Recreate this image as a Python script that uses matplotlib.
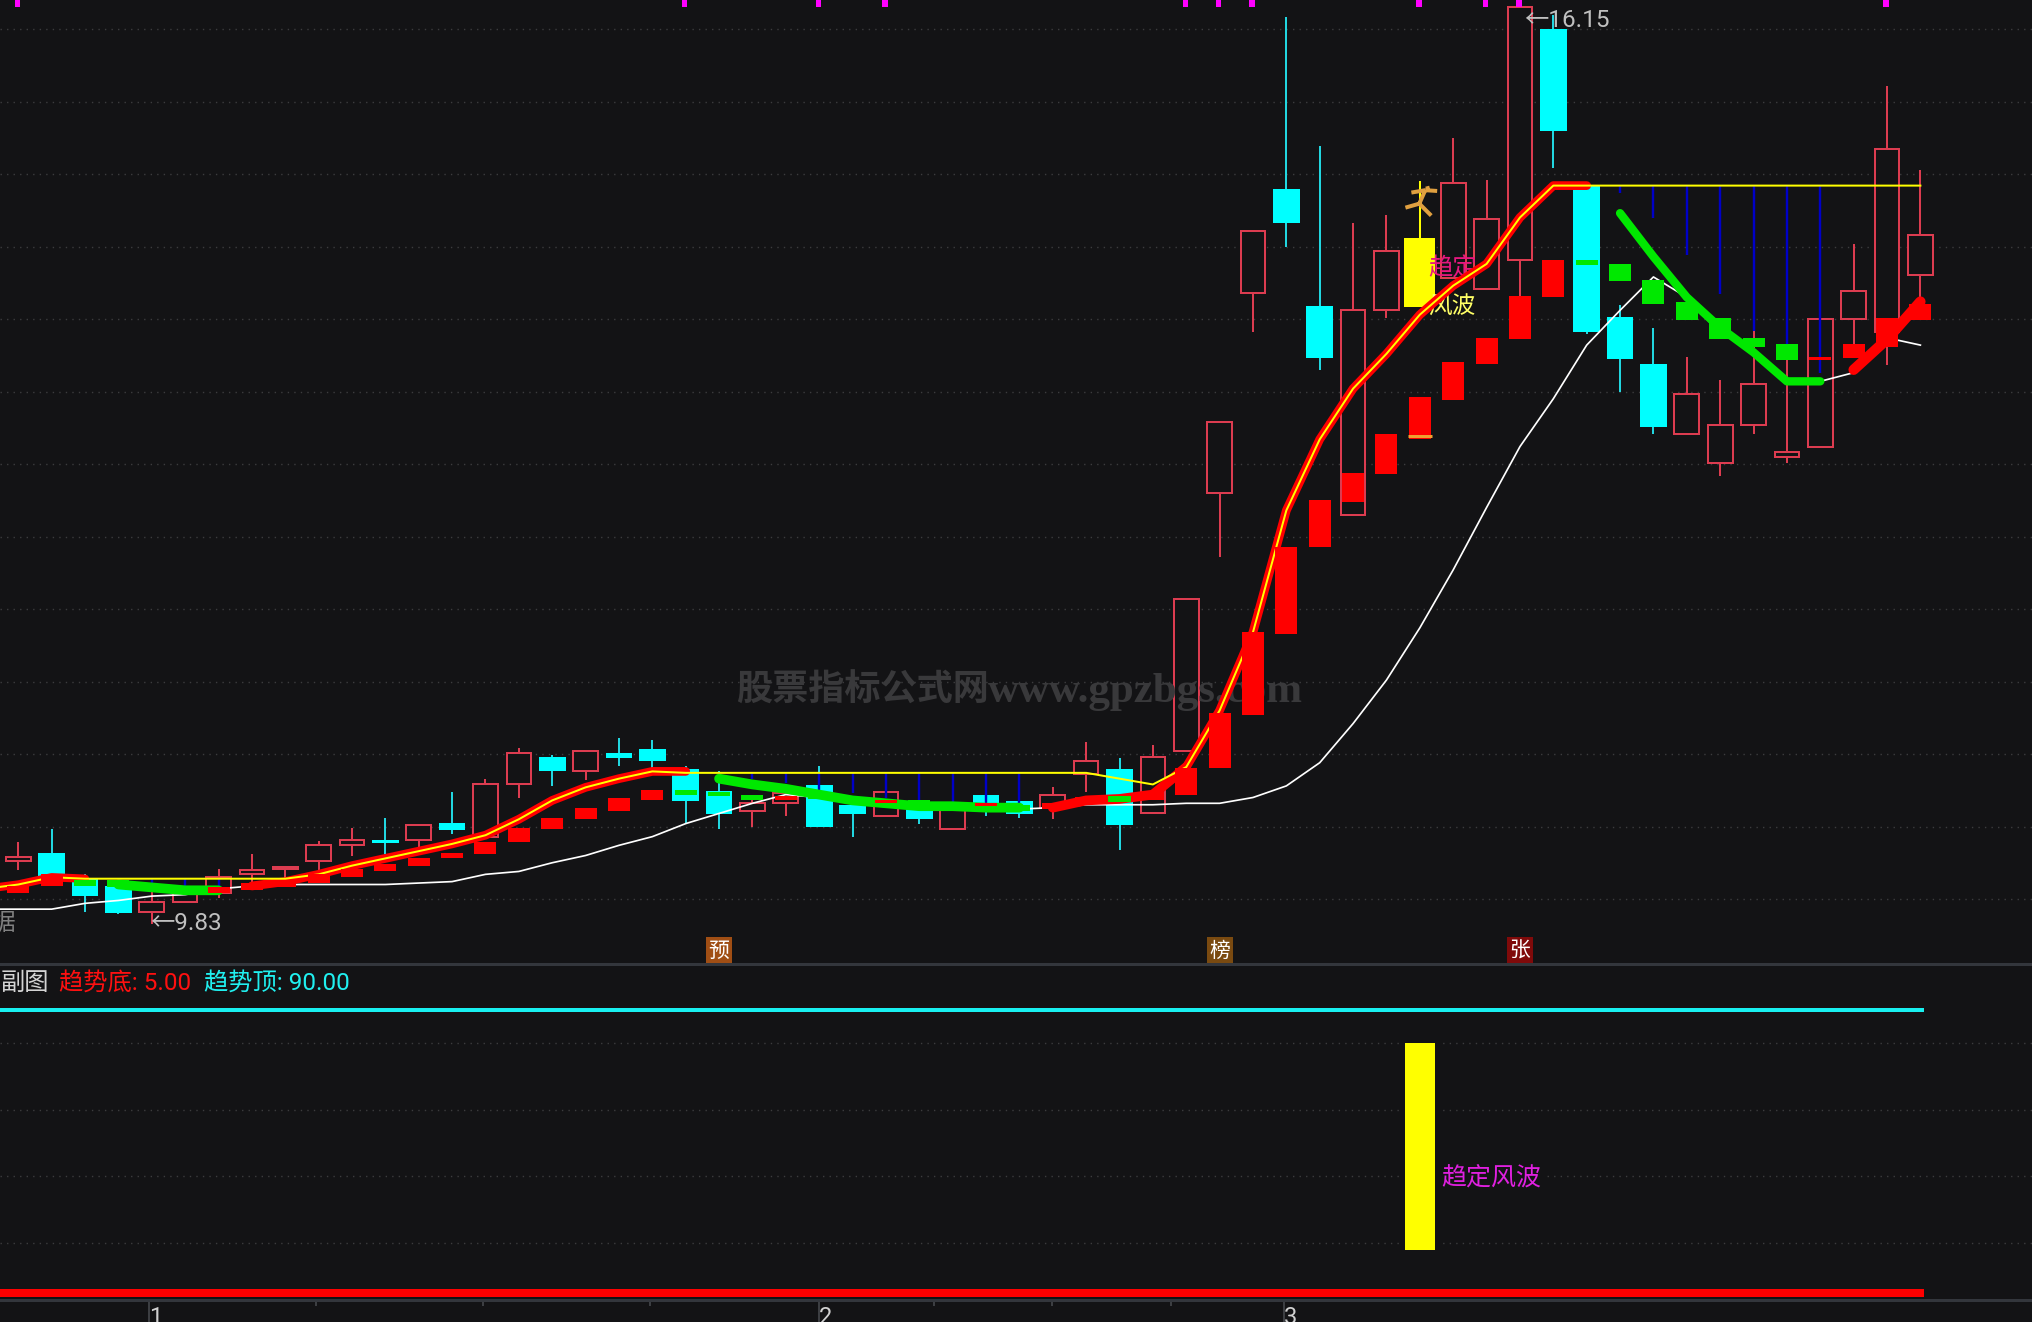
import numpy as np
import matplotlib
matplotlib.use("Agg")
import matplotlib.pyplot as plt
from matplotlib.path import Path

W, H = 2032, 1322
BG = "#131315"
GRID = "#3c3c3e"
UP = "#dc3c50"
DOWN = "#00ffff"
DOWN_WICK = "#22d6e0"
CJK = ["Noto Sans CJK SC", "DejaVu Sans"]
NUM = ["Roboto", "Noto Sans CJK SC", "DejaVu Sans"]

opens = [10.26,10.31,10.13,10.08,9.91,9.98,10.04,10.17,10.21,10.26,10.37,10.40,10.41,10.52,10.43,10.79,10.97,10.88,11.00,11.03,
         10.89,10.74,10.61,10.66,10.78,10.64,10.57,10.63,10.48,10.71,10.67,10.63,10.86,10.89,10.59,11.02,12.80,14.18,14.89,14.08,
         12.65,14.06,14.09,14.28,14.21,14.41,15.99,14.92,14.01,13.68,13.21,13.01,13.27,13.05,13.12,14.00,13.91,14.30]
closes = [10.29,10.16,10.03,9.91,9.98,10.08,10.15,10.20,10.22,10.37,10.41,10.39,10.51,10.48,10.79,11.01,10.89,11.02,10.98,10.96,
          10.68,10.59,10.66,10.73,10.50,10.59,10.74,10.56,10.63,10.67,10.59,10.72,10.95,10.52,10.98,12.07,13.29,14.61,14.67,13.74,
          14.06,14.47,14.55,14.94,14.69,16.15,15.30,13.92,13.73,13.26,13.48,13.27,13.55,13.08,14.00,14.19,15.17,14.58]
highs = [10.39,10.48,10.17,10.13,10.14,10.14,10.21,10.31,10.22,10.40,10.49,10.56,10.51,10.74,10.83,11.04,10.99,11.02,11.11,11.10,
         10.92,10.88,10.72,10.73,10.92,10.68,10.74,10.66,10.63,10.71,10.68,10.77,11.08,10.97,11.06,12.07,13.29,14.61,16.08,15.19,
         14.66,14.72,14.95,15.25,14.96,16.15,16.10,14.92,14.10,13.94,13.74,13.58,13.92,13.83,14.00,14.52,15.61,15.03]
lows = [10.20,10.16,9.91,9.90,9.83,9.98,10.01,10.11,10.14,10.19,10.30,10.31,10.35,10.45,10.43,10.70,10.78,10.82,10.92,10.90,
        10.52,10.48,10.50,10.57,10.50,10.43,10.57,10.52,10.48,10.57,10.56,10.55,10.74,10.34,10.59,11.02,12.36,13.91,14.50,13.65,
        12.65,14.01,14.08,14.28,14.21,14.16,15.04,13.90,13.50,13.21,13.21,12.92,13.21,13.01,13.12,13.79,13.68,14.05]

block_top = [10.09,10.17,10.13,10.13,10.10,10.08,10.08,10.11,10.12,10.17,10.21,10.24,10.28,10.32,10.39,10.49,10.56,10.63,10.70,10.75,
             10.75,10.74,10.72,10.71,10.73,10.68,10.68,10.68,10.66,10.66,10.65,10.66,10.70,10.71,10.74,10.90,11.28,11.84,12.43,12.75,
             12.94,13.21,13.46,13.70,13.87,14.16,14.41,14.41,14.38,14.27,14.12,14.01,13.87,13.83,13.74,13.83,14.01,14.10]
block_bottom = [10.04,10.09,10.09,10.08,10.06,10.04,10.04,10.06,10.08,10.11,10.15,10.19,10.23,10.28,10.31,10.39,10.48,10.55,10.61,10.68,
                10.72,10.71,10.68,10.68,10.69,10.66,10.66,10.63,10.62,10.64,10.61,10.62,10.66,10.67,10.68,10.72,10.90,11.27,11.83,12.43,
                12.74,12.93,13.17,13.44,13.69,13.86,14.15,14.37,14.26,14.10,13.99,13.86,13.81,13.72,13.72,13.73,13.81,13.99]
block_green = [2,3,4,5,20,21,22,24,25,27,28,30,33,47,48,49,50,51,52,53]

trend = [10.10,10.15,10.14,10.10,10.08,10.06,10.06,10.09,10.12,10.17,10.23,10.28,10.33,10.38,10.44,10.55,10.68,10.77,10.83,10.88,
         10.88,10.83,10.79,10.76,10.72,10.68,10.66,10.64,10.64,10.63,10.63,10.63,10.68,10.69,10.72,10.91,11.30,11.84,12.68,13.17,
         13.52,13.76,14.03,14.23,14.38,14.70,14.92,14.92,14.73,14.43,14.15,13.94,13.77,13.57,13.57,13.65,13.86,14.12]
ceiling = [10.10,10.15,10.14,10.14,10.14,10.14,10.14,10.14,10.14,10.17,10.23,10.28,10.33,10.38,10.44,10.55,10.68,10.77,10.83,10.88,
           10.87,10.87,10.87,10.87,10.87,10.87,10.87,10.87,10.87,10.87,10.87,10.87,10.87,10.83,10.79,10.91,11.30,11.84,12.68,13.17,
           13.52,13.76,14.03,14.23,14.38,14.70,14.92,14.92,14.92,14.92,14.92,14.92,14.92,14.92,14.92,14.92,14.92,14.92]
slow_ma = [9.93,9.93,9.97,9.99,10.02,10.03,10.07,10.09,10.10,10.10,10.10,10.10,10.11,10.12,10.17,10.19,10.25,10.30,10.37,10.43,
           10.52,10.59,10.66,10.72,10.70,10.68,10.66,10.64,10.64,10.63,10.62,10.63,10.65,10.65,10.65,10.66,10.66,10.70,10.78,10.94,
           11.21,11.51,11.87,12.27,12.70,13.12,13.45,13.82,14.06,14.29,14.15,13.90,13.79,13.57,13.57,13.63,13.87,13.82]
# values of the three lines one session before the first drawn candle
trend_before, ma_before = 10.07, 9.93

blue_idx = [4,5,6,21,22,23,24,25,26,27,28,29,30,48,49,50,51,52,53,54]
blue_end = [10.11,10.09,10.08,10.83,10.83,10.80,10.75,10.73,10.70,10.68,10.67,10.66,10.66,14.87,14.70,14.44,14.17,13.92,13.83,13.63]

signal_idx = [0,20,24,26,35,36,37,42,44,45,56]
badge_idx = [21,36,45]
badge_text = ["预","榜","张"]
badge_color = ["#a04e14","#7a4a10","#800a0a"]

wave_idx = 42
wave_low, wave_high = 18, 80
trend_floor, trend_roof = 5.0, 90.0
sub_grid = [20,40,60,80]
price_grid = [10.0,10.5,11.0,11.5,12.0,12.5,13.0,13.5,14.0,14.5,15.0,15.5,16.0]
tick_major = [3.93,23.98,37.93]
tick_major_labels = ["1","2","3"]
tick_minor = [8.93,13.93,18.93,27.43,30.98,34.53]
low_label, high_label = "←9.83", "←16.15"

# (first, last, colour, width)
segments = [(0,2,"#ff0000",6.0),(3,6,"#00e800",7.0),(7,20,"#ff0000",6.3),(21,30,"#00e800",7.0),
            (31,35,"#ff0000",7.0),(35,47,"#ff0000",6.3),(48,54,"#00e800",6.0),(55,57,"#ff0000",7.5)]

x = np.arange(len(opens))
PX = 33.37
OFF = 18.3
XLIM = (-OFF/PX, (W-OFF)/PX)
px = lambda v: v*72/100
xi = lambda p: (p-OFF)/PX

fig = plt.figure(figsize=(W/100, H/100), dpi=100, facecolor=BG)
ax = fig.add_axes([0, 1-964/H, 1, 964/H], facecolor=BG)
sub = fig.add_axes([0, 22/H, 1, 336/H], facecolor=BG)
for a in (ax, sub):
    a.set_xlim(*XLIM)
    for s in a.spines.values():
        s.set_visible(False)
ax.set_ylim(16.2-964/145, 16.2)
ax.set_xticks([]); ax.set_yticks([])
sub.set_ylim(5-7/3.329, 90+46/3.329)
sub.set_yticks([])

dot = (0, (1, 3.7))
ax.hlines(price_grid, *XLIM, colors=GRID, lw=1.0, linestyles=[dot], zorder=0.5)
sub.hlines(sub_grid, *XLIM, colors=GRID, lw=1.0, linestyles=[dot], zorder=0.5)

# candles
for i in x:
    up = closes[i] > opens[i]
    wid = 0.74
    if i == wave_idx:
        wc = fc = "#ffff00"; ec = fc; wid = 0.86
    elif up:
        wc, fc, ec = UP, BG, UP
    else:
        wc, fc, ec = DOWN_WICK, DOWN, DOWN
    ax.vlines(i, lows[i], highs[i], colors=wc, lw=px(2), zorder=2)
    lo, hi = min(opens[i], closes[i]), max(opens[i], closes[i])
    ax.bar(i, hi-lo, bottom=lo, width=wid, facecolor=fc, edgecolor=ec, lw=px(2), zorder=2.1)

ax.text(xi(736), 16.2-690/145, "股票指标公式网", family=["Noto Sans CJK SC"], weight="bold", fontsize=26,
        color="#39393b", ha="left", va="center", zorder=2.15)
ax.text(xi(988), 16.2-692/145, "www.gpzbgs.com", family=["Liberation Serif"], weight="bold", fontsize=31,
        color="#39393b", ha="left", va="center", zorder=2.15)

line_x = np.r_[-1, x]
ax.plot(line_x, np.r_[ma_before, slow_ma], color="#ffffff", lw=px(1.7), zorder=3)
ax.vlines(blue_idx, [ceiling[i] for i in blue_idx], blue_end, colors="#0000c8", lw=px(2.4), zorder=3.4)

ax.text(xi(1428), 14.35, "趋定", family=CJK, fontsize=17.5, color="#e6177f", va="center", ha="left", zorder=3.6)
ax.text(xi(1428), 14.08, "风波", family=CJK, fontsize=17, color="#ffff66", va="center", ha="left", zorder=3.6)

full_trend = np.r_[trend_before, trend]
for s, e, c, lw in segments:
    ax.plot(line_x[(s+1 if s else 0):e+2], full_trend[(s+1 if s else 0):e+2], color=c, lw=lw, zorder=4.5,
            solid_capstyle="round", solid_joinstyle="round")
ax.plot(line_x, np.r_[trend_before, ceiling], color="#ffff00", lw=px(2), zorder=5)

for i in x:
    c = "#00e800" if i in block_green else "#ff0000"
    ax.bar(i, block_top[i]-block_bottom[i], bottom=block_bottom[i], width=0.66, color=c, lw=0, zorder=6)

# signal ticks on the top edge
ax.bar(np.array(signal_idx)-0.03, 0.045, bottom=16.2-0.045, width=0.16, color="#ff00ff", lw=0, zorder=7)

# running figure + orange bracket
runner = Path([(135,56),(137,64), (130,66),(115,100), (95,72),(130,66), (130,66),(160,68),
               (115,100),(80,110), (115,100),(145,130)],
              [Path.MOVETO,Path.LINETO]*6)
runner = Path(runner.vertices*[1,-1]-[118,-92], runner.codes)
ax.plot([wave_idx], [14.82], marker=runner, ms=24, mfc="none", mec="#e0a040", mew=px(4), ls="none", zorder=7)
ax.hlines(13.19, wave_idx-0.36, wave_idx+0.36, colors="#f0a030", lw=px(3), zorder=7)

ax.text(xi(150), 9.83, low_label, family=NUM, fontsize=17.5, color="#c0c0c0", va="center", ha="left", zorder=7)
ax.text(xi(1524), 16.06, high_label, family=NUM, fontsize=17.5, color="#c0c0c0", va="center", ha="left", zorder=7)
ax.text(xi(15), 9.83, "据", family=CJK, fontsize=17, color="#808080", va="center", ha="right", zorder=7)

for i, t, c in zip(badge_idx, badge_text, badge_color):
    ax.text(i, 16.2-951/145, t, family=CJK, fontsize=15, color="#ffffff", ha="center", va="center", zorder=7,
            bbox=dict(boxstyle="square,pad=0.12", fc=c, ec="none"))

# sub panel
sub.hlines(trend_roof, XLIM[0], 57.1, colors="#18f0f0", lw=px(4), zorder=3)
sub.hlines(trend_floor, XLIM[0], 57.1, colors="#ff0000", lw=px(8), zorder=3)
sub.bar(wave_idx, wave_high-wave_low+3, bottom=wave_low-1.5, width=1.06, color=BG, lw=0, zorder=2)
sub.bar(wave_idx, wave_high-wave_low, bottom=wave_low, width=0.9, color="#ffff00", lw=0, zorder=3)
sub.text(xi(1441), 39.6, "趋定风波", family=CJK, fontsize=18, color="#e020e0", ha="left", va="center", zorder=4,
         bbox=dict(fc=BG, ec="none", pad=2))

head_y = 1-983/H
for xp, t, c in [(1,"副图","#d4d4d4"),(59,"趋势底: 5.00","#ff1010"),(204,"趋势顶: 90.00","#20f0f0")]:
    fig.text(xp/W, head_y, t, family=NUM, fontsize=17.5, color=c, ha="left", va="center")

# frame lines and time axis
sub.spines["top"].set_visible(True)
sub.spines["bottom"].set_visible(True)
sub.spines["top"].set_color("#33363c"); sub.spines["top"].set_linewidth(px(3))
sub.spines["bottom"].set_color("#33363c"); sub.spines["bottom"].set_linewidth(px(3))
sub.set_xticks(tick_major, labels=tick_major_labels, ha="left", family=NUM, fontsize=17, color="#d0d0d0")
sub.set_xticks(tick_minor, minor=True)
sub.tick_params(axis="x", which="major", length=px(22), width=px(1.5), color="#4a4d52", pad=-px(16), direction="out")
sub.tick_params(axis="x", which="minor", length=px(6), width=px(1.5), color="#4a4d52", direction="out")
for lab in sub.get_xticklabels():
    lab.set_va("top")

fig.savefig("out.png", dpi=100, facecolor=BG)
